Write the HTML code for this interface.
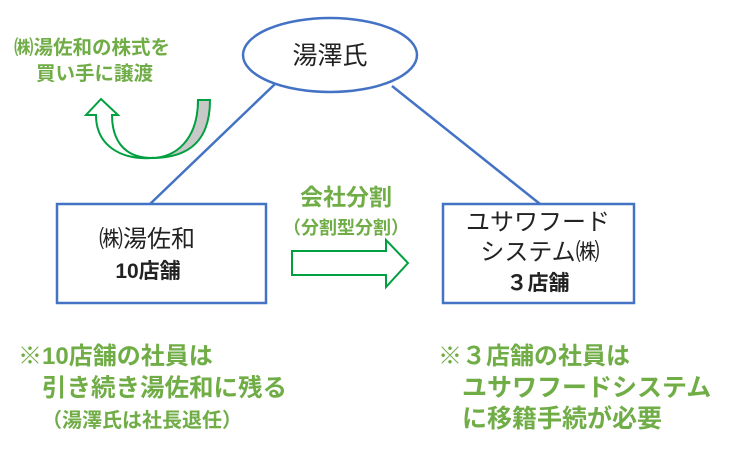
<!DOCTYPE html>
<html><head><meta charset="utf-8"><style>
body{margin:0;background:#fff;}
svg{display:block}
text{font-family:"Liberation Sans","Noto Sans CJK JP",sans-serif;}
.g{fill:#70ad47;font-weight:bold}
</style></head><body>
<svg width="739" height="465" viewBox="0 0 739 465">
<line x1="150" y1="204" x2="275" y2="84" stroke="#4472c4" stroke-width="2.5"/>
<line x1="392" y1="86" x2="540" y2="204" stroke="#4472c4" stroke-width="2.5"/>
<ellipse cx="330" cy="55" rx="87" ry="37" fill="#fff" stroke="#4472c4" stroke-width="2.5"/>
<text x="330" y="64" font-size="25" text-anchor="middle" fill="#222">湯澤氏</text>
<rect x="57" y="204" width="209" height="99" fill="#fff" stroke="#4472c4" stroke-width="2.5"/>
<text x="147" y="247" font-size="24" text-anchor="middle" fill="#222">㈱湯佐和</text>
<text x="148" y="278" font-size="21" font-weight="bold" text-anchor="middle" fill="#222">10店舗</text>
<rect x="443" y="204" width="191" height="99" fill="#fff" stroke="#4472c4" stroke-width="2.5"/>
<text x="538" y="230" font-size="24" text-anchor="middle" fill="#222">ユサワフード</text>
<text x="540" y="260" font-size="24" text-anchor="middle" fill="#222">システム㈱</text>
<text x="538" y="290" font-size="21" font-weight="bold" text-anchor="middle" fill="#222">３店舗</text>
<text x="346" y="205" font-size="23" text-anchor="middle" class="g">会社分割</text>
<text x="346" y="234" font-size="18" text-anchor="middle" class="g">（分割型分割）</text>
<polygon points="292,251 386,251 386,240 408,263 386,287 386,275 292,275" fill="#fff" stroke="#00a040" stroke-width="2"/>
<path d="M198,100 L210,100 C210,140 190,158 152,158 C175,150 198,130 198,100 Z" fill="#c8c8c8" stroke="#00a040" stroke-width="2"/>
<path d="M198,100 C198,140 175,158 152,158 C120,158 112,135 112,115 L118,115 L101,99 L86,115 L96,115 C96,145 120,160 152,158" fill="#fff" stroke="#00a040" stroke-width="2"/>
<text x="14" y="54" font-size="19.5" class="g">㈱湯佐和の株式を</text>
<text x="36" y="80" font-size="19.5" class="g">買い手に譲渡</text>
<text x="18" y="364" font-size="24" class="g">※10店舗の社員は</text>
<text x="42" y="396" font-size="24.5" class="g">引き続き湯佐和に残る</text>
<text x="42" y="427" font-size="20" class="g">（湯澤氏は社長退任）</text>
<text x="438" y="364" font-size="24" class="g">※３店舗の社員は</text>
<text x="462" y="396" font-size="25" class="g">ユサワフードシステム</text>
<text x="462" y="427" font-size="25" class="g">に移籍手続が必要</text>
</svg>
</body></html>
